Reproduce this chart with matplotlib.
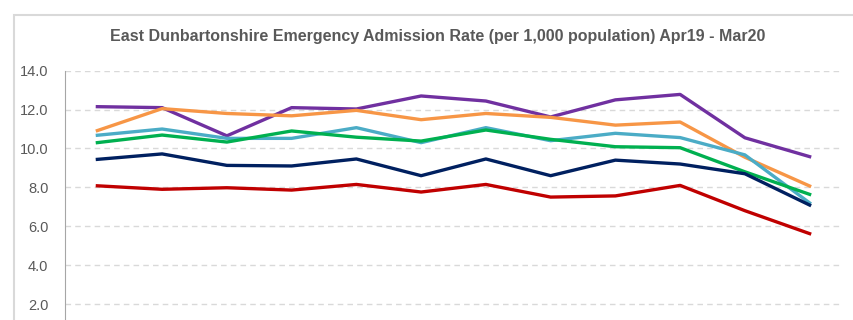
import matplotlib.pyplot as plt
from matplotlib.patches import Rectangle

months = ["Apr19", "May19", "Jun19", "Jul19", "Aug19", "Sep19",
          "Oct19", "Nov19", "Dec19", "Jan20", "Feb20", "Mar20"]

purple = [12.15, 12.1, 10.65, 12.1, 12.03, 12.7, 12.44, 11.62, 12.5, 12.78, 10.55, 9.58]
orange = [10.92, 12.05, 11.8, 11.68, 11.96, 11.48, 11.8, 11.6, 11.2, 11.36, 9.55, 8.07]
cyan = [10.68, 11.0, 10.52, 10.52, 11.07, 10.3, 11.07, 10.4, 10.78, 10.56, 9.67, 7.2]
green = [10.3, 10.69, 10.33, 10.9, 10.58, 10.38, 10.95, 10.47, 10.09, 10.04, 8.8, 7.64]
navy = [9.44, 9.72, 9.13, 9.1, 9.46, 8.6, 9.46, 8.6, 9.4, 9.2, 8.7, 7.09]
red = [8.08, 7.9, 7.98, 7.86, 8.15, 7.76, 8.15, 7.5, 7.56, 8.1, 6.8, 5.62]

yticks = [2, 4, 6, 8, 10, 12, 14]

series = [
    (purple, "#7030A0"),
    (orange, "#F79646"),
    (cyan, "#4BACC6"),
    (green, "#00B050"),
    (navy, "#002060"),
    (red, "#C00000"),
]

W, H = 854, 320
fig = plt.figure(figsize=(W / 100, H / 100), dpi=100)

# outer chart border (cut off at right and bottom)
fig.patches.append(Rectangle((14 / W, -0.2), 2.0, (H - 15) / H + 0.2,
                             transform=fig.transFigure, fill=False,
                             edgecolor="#D9D9D9", linewidth=1.5))

# plot area runs below the visible picture
left, right = 65 / W, 842 / W
top, bottom = (H - 70.7) / H, (H - 342.9) / H
ax = fig.add_axes([left, bottom, right - left, top - bottom])

x = list(range(len(months)))
for vals, col in series:
    ax.plot(x, vals, color=col, linewidth=2.4, solid_joinstyle="round")

ax.set_xlim(-0.5, len(months) - 0.5)
ax.set_ylim(0, 14)
ax.set_yticks(yticks)
ax.set_yticklabels([f"{v:.1f}" for v in yticks],
                   fontsize=10.5, color="#595959", fontfamily="Liberation Sans")
# month labels sit below the visible crop
ax.set_xticks([])
ax.tick_params(axis="y", length=0, pad=12)
ax.grid(axis="y", color="#D9D9D9", linestyle=(0, (4, 3)), linewidth=1)
ax.set_axisbelow(True)
for s in ["top", "right", "bottom"]:
    ax.spines[s].set_visible(False)
ax.spines["left"].set_color("#A6A6A6")

fig.text(438 / W, (H - 37) / H,
         "East Dunbartonshire Emergency Admission Rate (per 1,000 population) Apr19 - Mar20",
         ha="center", va="center", fontsize=11.5, fontweight="bold", color="#595959",
         fontfamily=["Liberation Sans Narrow", "Liberation Sans"])

fig.savefig("out.png", dpi=100)
